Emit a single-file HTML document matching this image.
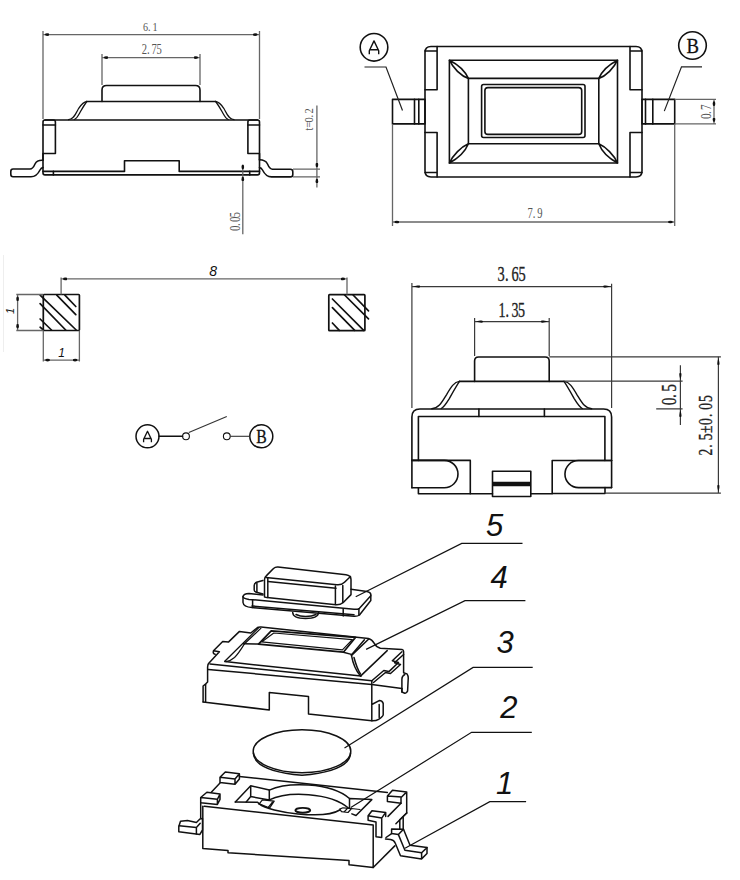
<!DOCTYPE html>
<html><head><meta charset="utf-8">
<style>
html,body{margin:0;padding:0;background:#fff;}
svg{display:block;}
.o{stroke:#111;stroke-width:1.6;fill:none;stroke-linejoin:round;stroke-linecap:round;}
.d{stroke:#666;stroke-width:1.3;fill:none;}
.t{font-family:"Liberation Serif",serif;fill:#333;}
.s{font-family:"Liberation Sans",sans-serif;font-style:italic;fill:#111;}
</style></head><body>
<svg width="740" height="880" viewBox="0 0 740 880">
<defs>
<marker id="ar" markerUnits="userSpaceOnUse" markerWidth="8" markerHeight="4" refX="6.3" refY="2" orient="auto-start-reverse"><ellipse cx="2" cy="2" rx="2.4" ry="1.3" fill="#111"/></marker>
<marker id="ar2" markerUnits="userSpaceOnUse" markerWidth="10" markerHeight="4" refX="8.5" refY="1.4" orient="auto-start-reverse"><path d="M0,1.4 C0,0 2.5,0 7,1.4 C2.5,2.8 0,2.8 0,1.4z" fill="#111"/></marker>
</defs>
<g id="v1">
<g class="o">
 <path d="M102,101.5 V90 Q102,85.5 106.5,85.5 H195.5 Q200,85.5 200,90 V101.5"/>
 <path d="M86.8,101.5 H215.7"/>
 <g style="stroke-width:1.3">
 <path d="M86.8,101.5 C83,102 81,105 78.6,108.5 C76,113 74,119.5 68.5,119.7"/>
 <path d="M86.8,101.5 C85,104 82.5,108 80.5,111.5 C78.5,115 77,118.5 74.3,119.5"/>
 <path d="M215.7,101.5 C219.5,102 221.5,105 223.9,108.5 C226.5,113 228.5,119.5 234,119.7"/>
 <path d="M215.7,101.5 C217.5,104 220,108 222,111.5 C224,115 225.5,118.5 228.2,119.5"/>
 </g>
 <path d="M45,120 H257.5"/>
 <path d="M43,160 V122 Q43,120 45,120 H53.4 Q55.4,120 55.4,122 V153.5 H43"/>
 <path d="M43,125 H55.4"/>
 <path d="M259.5,160 V122 Q259.5,120 257.5,120 H250 Q247.9,120 247.9,122 V153.5 H259.5"/>
 <path d="M247.9,125 H259.5"/>
 <path d="M43,153.5 V173 Q43,174.9 45,174.9 H257.5 Q259.5,174.9 259.5,173 V153.5"/>
 <path d="M43,171.4 H124.5 V160.7 H179.2 V171.4 H259.5"/>
 <path d="M53.4,171.4 V174.9 M249.7,171.4 V174.9"/>
 <path d="M43,160.3 C39,160 36.5,161 35,164 C33.5,167.5 32.5,169 30,169 H13 Q10.8,169 10.8,171.5 V174.3 Q10.8,176.8 13,176.8 H31 C36.5,176.8 38.5,173 40,170 C41,168 42,167.6 43,167.6"/>
 <path d="M259.5,159.8 C263.5,159.8 266,161 267.5,164 C269,167.5 270,169.2 272.5,169.2 H290.5 Q292.8,169.2 292.8,171.7 V174.4 Q292.8,176.9 290.5,176.9 H271.5 C266,176.9 264,173 262.5,170 C261.5,168 260.5,167.6 259.5,167.6"/>
</g>
<g class="d">
 <path d="M43,31 V119 M259.5,31 V119"/>
 <path d="M43,34.6 H259.5" marker-start="url(#ar)" marker-end="url(#ar)"/>
 <path d="M102,54 V85 M200,54 V85"/>
 <path d="M102,57.6 H200" marker-start="url(#ar)" marker-end="url(#ar)"/>
 <path d="M293,169.2 H320 M293,176.9 H320"/>
 <path d="M316.9,105.6 V169.2" marker-end="url(#ar)"/>
 <path d="M316.9,187.4 V176.9" marker-end="url(#ar)"/>
 <path d="M242.8,164.4 V171.4" marker-end="url(#ar)"/>
 <path d="M242.8,171.4 V174.9 M316.9,169.2 V176.9"/>
 <path d="M242.8,234.3 V174.9" marker-end="url(#ar)"/>
</g>
<g class="t" font-size="13.33" style="fill:#555;stroke:#555;stroke-width:0" transform="translate(143.30,31.20)"><text transform="translate(2.33,0) scale(0.76,1)" text-anchor="middle">6</text><text transform="translate(6.07,0) scale(0.76,1)" text-anchor="middle">.</text><text transform="translate(11.67,0) scale(0.76,1)" text-anchor="middle">1</text></g><g class="t" font-size="13.94" style="fill:#555;stroke:#555;stroke-width:0" transform="translate(142.00,54.20)"><text transform="translate(2.45,0) scale(0.76,1)" text-anchor="middle">2</text><text transform="translate(6.37,0) scale(0.76,1)" text-anchor="middle">.</text><text transform="translate(12.25,0) scale(0.76,1)" text-anchor="middle">7</text><text transform="translate(17.15,0) scale(0.76,1)" text-anchor="middle">5</text></g><g class="t" font-size="13.03" style="fill:#555;stroke:#555;stroke-width:0" transform="translate(313.10,131.30) rotate(-90)"><text transform="translate(2.28,0) scale(0.8,1)" text-anchor="middle">t</text><text transform="translate(6.84,0) scale(0.8,1)" text-anchor="middle">=</text><text transform="translate(11.40,0) scale(0.8,1)" text-anchor="middle">0</text><text transform="translate(15.05,0) scale(0.8,1)" text-anchor="middle">.</text><text transform="translate(20.52,0) scale(0.8,1)" text-anchor="middle">2</text></g><g class="t" font-size="14.39" style="fill:#555;stroke:#555;stroke-width:0" transform="translate(240.10,230.60) rotate(-90)"><text transform="translate(2.25,0) scale(0.76,1)" text-anchor="middle">0</text><text transform="translate(5.85,0) scale(0.76,1)" text-anchor="middle">.</text><text transform="translate(11.25,0) scale(0.76,1)" text-anchor="middle">0</text><text transform="translate(15.75,0) scale(0.76,1)" text-anchor="middle">5</text></g></g><g id="v2">
<g class="o">
 <circle cx="374" cy="47.3" r="13.8"/>
 <circle cx="692.5" cy="45.5" r="13.8"/>
 <path d="M431,46.5 H636 Q642,46.5 642,52.5 V171 Q642,177 636,177 H431 Q425,177 425,171 V52.5 Q425,46.5 431,46.5z"/>
 <path d="M437.1,46.5 V89.7 H425 M425,51 H437.1"/>
 <path d="M437.1,177 V132.5 H425 M425,172.5 H437.1"/>
 <path d="M630,46.5 V89.7 H642 M642,51 H630"/>
 <path d="M630,177 V132.5 H642 M642,172.5 H630"/>
 <rect x="449.4" y="60.2" width="168.1" height="102.8"/>
 <rect x="468.4" y="78.4" width="130.4" height="65.4"/>
 <rect x="481.6" y="84.5" width="103.4" height="53" rx="2"/>
 <rect x="484.9" y="87.6" width="96.8" height="46.8" rx="3"/>
 <path d="M449.4,60.2 C457,64 465,71 468.4,78.4 C461,76 453,68 449.4,60.2z"/>
 <path d="M617.5,60.2 C610,64 602,71 598.8,78.4 C606,76 614,68 617.5,60.2z"/>
 <path d="M449.4,163 C457,159 465,152 468.4,143.8 C461,147 453,155 449.4,163z"/>
 <path d="M617.5,163 C610,159 602,152 598.8,143.8 C606,147 614,155 617.5,163z"/>
 <rect x="392.5" y="99.4" width="32.5" height="24.5"/>
 <path d="M414.5,99.4 V123.9 M418.8,99.4 V123.9"/>
 <rect x="642" y="99.4" width="32.7" height="24.5"/>
 <path d="M645.5,99.4 V123.9 M652.8,99.4 V123.9"/>
</g>
<g class="d" style="stroke:#222;stroke-width:1.2">
 <path d="M364.5,67 H386 L402.5,110.5"/>
 <path d="M702,66.9 H681.5 L664.3,111.1"/>
</g>
<g class="d">
 <path d="M392.5,124 V226 M674.7,124 V226"/>
 <path d="M392.5,222 H674.7" marker-start="url(#ar)" marker-end="url(#ar)"/>
 <path d="M674.7,99.4 H716 M674.7,123.9 H716"/>
 <path d="M714,99.4 V123.9" marker-start="url(#ar)" marker-end="url(#ar)"/>
</g>
<path d="M369.3,54.2 V50.8 L374,40.9 L378.7,50.8 V54.2 M369.8,49.7 H378.2" style="stroke:#111;stroke-width:1.4;fill:none;stroke-linejoin:round"/>
<text class="t" style="fill:#111;stroke:#111;stroke-width:0.3" font-size="22" transform="translate(692.8,53.4) scale(0.85,1)" text-anchor="middle">B</text>
<g class="t" font-size="13.94" style="fill:#555;stroke:#555;stroke-width:0" transform="translate(527.80,218.20)"><text transform="translate(2.40,0) scale(0.76,1)" text-anchor="middle">7</text><text transform="translate(6.24,0) scale(0.76,1)" text-anchor="middle">.</text><text transform="translate(12.00,0) scale(0.76,1)" text-anchor="middle">9</text></g><g class="t" font-size="14.70" style="fill:#555;stroke:#555;stroke-width:0" transform="translate(710.50,118.60) rotate(-90)"><text transform="translate(2.30,0) scale(0.76,1)" text-anchor="middle">0</text><text transform="translate(5.98,0) scale(0.76,1)" text-anchor="middle">.</text><text transform="translate(11.50,0) scale(0.76,1)" text-anchor="middle">7</text></g></g><!-- ============ VIEW 3: footprint ============ -->
<g id="v3">
<path d="M3.5,255 V352" stroke="#eee" stroke-width="1" fill="none"/>
<g class="o" style="stroke-width:1.7">
 <rect x="43.3" y="294.5" width="36.1" height="36" rx="0.8"/>
 <rect x="328.8" y="294.6" width="36.1" height="36.1" rx="0.8"/>
 <path d="M40.1,295.1 L76.2,330 M40.1,303.6 L65.7,330 M40.1,319 L51.5,330 M40.1,327.2 L43.4,330 M56.8,295.1 L75.8,314.6 M64.9,295.1 L75.8,306.5"/>
 <path d="M332.4,299 L363.7,330.3 M332.4,307.6 L354.7,330.3 M332.4,323 L339.3,330.3 M344.6,295 L368.5,318.9 M353.1,295 L368.5,310.8"/>
</g>
<g class="d">
 <path d="M61.1,277.5 V294.5 M347,277.5 V294.6"/>
 <path d="M61.1,278.9 H347" marker-start="url(#ar)" marker-end="url(#ar)"/>
 <path d="M16.3,294.5 H43.3 M16.3,330.5 H43.3"/>
 <path d="M17.6,294.5 V330.5" marker-start="url(#ar)" marker-end="url(#ar)"/>
 <path d="M43.3,330.5 V361.5 M79.4,330.5 V361.5"/>
 <path d="M43.3,360.1 H79.4" marker-start="url(#ar)" marker-end="url(#ar)"/>
</g>
<text class="s" font-size="14" x="209.3" y="276">8</text>
<text class="s" font-size="12" x="61.5" y="357" text-anchor="middle">1</text>
<text class="s" font-size="11" transform="translate(13.8,311) rotate(-90)" text-anchor="middle">1</text>
</g>

<!-- ============ VIEW 4: circuit ============ -->
<g id="v4">
<g class="o" style="stroke-width:1.5">
 <circle cx="147.5" cy="436.3" r="11.5"/>
 <circle cx="261.3" cy="436.3" r="11.5"/>
 <path d="M159,436.3 H182.6"/>
 <circle cx="186" cy="436.3" r="3.4" style="stroke-width:1.1"/>
 <circle cx="226.8" cy="436.3" r="3.4" style="stroke-width:1.1"/>
</g>
<g class="d" style="stroke:#333;stroke-width:1.1">
 <path d="M188.8,432.5 L226.8,416.5"/>
 <path d="M230.2,436.3 H249.8"/>
</g>
<path d="M143.6,442.2 V439.4 L147.5,431.3 L151.4,439.4 V442.2 M144,438.5 H151" style="stroke:#111;stroke-width:1.3;fill:none;stroke-linejoin:round"/>
<text class="t" style="fill:#111;stroke:#111;stroke-width:0.3" font-size="18.5" transform="translate(261.6,442.6) scale(0.85,1)" text-anchor="middle">B</text>
</g>

<!-- ============ VIEW 5: front view ============ -->
<g id="v5">
<g class="o">
 <path d="M474.6,381.4 V361 Q474.6,357 478.6,357 H545.2 Q549.2,357 549.2,361 V381.4"/>
 <path d="M459.5,381.4 H564"/>
 <g style="stroke-width:1.4">
 <path d="M459.5,381.4 C454,382 451,387 446.6,394.6 C442,402 439,408.3 431.8,408.7"/>
 <path d="M459.5,381.4 C457,385 453,392 449.3,398.6 C446,404 444,407 441.2,408.5"/>
 <path d="M564,381.4 C569.5,382 572.5,387 576.9,394.6 C581.5,402 584.5,408.3 591.7,408.7"/>
 <path d="M564,381.4 C566.5,385 570.5,392 574.2,398.6 C577.5,404 579.5,407 582.3,408.5"/>
 </g>
 <path d="M411.9,487.8 V417 Q411.9,409 419.9,409 H603.6 Q611.6,409 611.6,417 V487.6"/>
 <path d="M418.4,460.4 V416.5 H604.9 V460.5"/>
 <path d="M478.9,409 V416.5 M544.4,409 V416.5"/>
 <path d="M411.9,460.4 H470.3 V493.7 H418.4 V487.8"/>
 <path d="M411.9,460.4 H444.3 A13.7,13.7 0 0 1 444.3,487.8 H411.9"/>
 <path d="M611.6,460.5 H552.2 V493.5 H605 V487.6"/>
 <path d="M611.6,460.5 H578.5 A13.5,13.5 0 0 0 578.5,487.6 H611.6"/>
 <path d="M470.3,493.7 H492.5 M530.8,493.7 H552.2"/>
 <rect x="492.5" y="471.2" width="38.3" height="25.3"/>
 <path d="M492.5,484 H530.8" style="stroke-width:4.6;stroke-linecap:butt"/>
</g>
<g class="d" style="stroke:#3a3a3a;stroke-width:1.2">
 <path d="M411.9,283 V408 M611.6,283.8 V408"/>
 <path d="M411.9,286.6 H611.6" marker-start="url(#ar2)" marker-end="url(#ar2)"/>
 <path d="M474.6,318 V356 M549.2,318 V356"/>
 <path d="M474.6,321.6 H549.2" marker-start="url(#ar2)" marker-end="url(#ar2)"/>
 <path d="M549.2,356.8 H720.9 M605,493.1 H720.9"/>
 <path d="M718.4,356.8 V493.1" marker-start="url(#ar2)" marker-end="url(#ar2)"/>
 <path d="M564.3,381.2 H682.6 M656.2,408.8 H682.6 M680.4,381.2 V408.8"/>
 <path d="M680.4,365.3 V381.2" marker-end="url(#ar2)"/>
 <path d="M680.4,425 V408.8" marker-end="url(#ar2)"/>
</g>
<g class="t" font-size="21.21" style="fill:#222;stroke:#222;stroke-width:0.35" transform="translate(497.60,281.20)"><text transform="translate(3.50,0) scale(0.68,1)" text-anchor="middle">3</text><text transform="translate(9.10,0) scale(0.68,1)" text-anchor="middle">.</text><text transform="translate(17.50,0) scale(0.68,1)" text-anchor="middle">6</text><text transform="translate(24.50,0) scale(0.68,1)" text-anchor="middle">5</text></g><g class="t" font-size="20.61" style="fill:#222;stroke:#222;stroke-width:0.35" transform="translate(498.90,316.70)"><text transform="translate(3.21,0) scale(0.68,1)" text-anchor="middle">1</text><text transform="translate(8.35,0) scale(0.68,1)" text-anchor="middle">.</text><text transform="translate(16.06,0) scale(0.68,1)" text-anchor="middle">3</text><text transform="translate(22.49,0) scale(0.68,1)" text-anchor="middle">5</text></g><g class="t" font-size="21.97" style="fill:#222;stroke:#222;stroke-width:0.35" transform="translate(675.90,404.80) rotate(-90)"><text transform="translate(3.37,0) scale(0.7,1)" text-anchor="middle">0</text><text transform="translate(8.75,0) scale(0.7,1)" text-anchor="middle">.</text><text transform="translate(16.83,0) scale(0.7,1)" text-anchor="middle">5</text></g><g class="t" font-size="19.39" style="fill:#222;stroke:#222;stroke-width:0.35" transform="translate(711.70,455.90) rotate(-90)"><text transform="translate(3.82,0) scale(0.7,1)" text-anchor="middle">2</text><text transform="translate(9.93,0) scale(0.7,1)" text-anchor="middle">.</text><text transform="translate(19.09,0) scale(0.7,1)" text-anchor="middle">5</text><text transform="translate(26.73,0) scale(0.7,1)" text-anchor="middle">±</text><text transform="translate(34.37,0) scale(0.7,1)" text-anchor="middle">0</text><text transform="translate(40.48,0) scale(0.7,1)" text-anchor="middle">.</text><text transform="translate(49.64,0) scale(0.7,1)" text-anchor="middle">0</text><text transform="translate(57.28,0) scale(0.7,1)" text-anchor="middle">5</text></g></g><!-- ============ EXPLODED VIEW ============ -->
<g id="ex">
<!-- labels & leaders -->
<g class="d" style="stroke:#111;stroke-width:1.2">
 <path d="M355.7,596.8 L461.7,543.4 H522.5"/>
 <path d="M366.1,649.4 L465,600.6 H525.4"/>
 <path d="M344.5,748.1 L473.1,667.4 H532.7"/>
 <path d="M350.8,807.6 L471.6,732.3 H531.8"/>
 <path d="M405,848.2 L489.8,801.6 H526.1"/>
</g>
<g class="s" font-size="31">
 <text x="486" y="535.5">5</text>
 <text x="490.5" y="587.7">4</text>
 <text x="496.5" y="652.8">3</text>
 <text x="500.3" y="717.5">2</text>
 <text x="496" y="793.6">1</text>
</g>

<!-- PART 5: button cap -->
<g class="o" style="stroke-width:1.5">
 <!-- stem -->
 <path d="M292.7,612.5 Q293,618.5 305.6,618.5 Q318.2,618.5 318.6,612.5"/>
 <path d="M296,614.5 Q300,616.5 305.6,616.5 Q312,616.5 316,614.5"/>
 <!-- plate -->
 <path d="M351,589.2 L367,591.4 Q371.5,592.5 370.8,595.7 L359.5,608.3 Q357.5,609.6 354,609.3 L249,599.4 Q243,598.5 243,596.5 Q243.5,593.5 249,593.4 L263,594.9"/>
 <path d="M243,596.5 V602.5 Q243.5,606.8 252,607.6 L354,616.3 Q357.5,616.5 359.5,615 L370.8,600.5 V595.7"/>
 <path d="M252.6,599.8 V607.6 M343.2,609 V616 M358.9,609 V615.3"/>
 <path d="M252,606 L354,614.8"/>
 <!-- back-left small tab -->
 <path d="M262.9,580.5 L256.5,582.3 Q254.2,583.3 254.2,585.5 V590 Q254.2,591.8 256.5,592.2 L262.9,594"/>
 <path d="M256.9,583 V591.8"/>
 <!-- button body -->
 <path d="M264.5,597 V579.5 Q264.5,577.3 266.5,575.6 L273.5,568.5 Q275.3,566.8 278,567 L346,574.8 Q351,575.5 351,579.5 V594.6 L343.5,602.2 Q340.5,605 336,604.7 L267,597.6 Q264.5,597.3 264.5,597"/>
 <path d="M266,577.4 L336.8,584.8 Q341.5,585.3 344.5,582.3 L350.5,576.5"/>
 <path d="M268,581.6 L336,588.3"/>
 <path d="M267.8,578 V597.5 M335.4,586 V604.5 M342.8,585.5 V602.7"/>
</g>

<!-- PART 4: housing -->
<g class="o" style="stroke-width:1.5">
 <!-- silhouette top -->
 <path d="M203.1,701.9 V686 L205.8,683.8 L207.6,682 V667 Q207.6,664 209.5,662.4 L219.4,651.8 L213.5,650.8 Q212.6,653.8 215.1,654.2 M213.5,650.8 L222.7,641.4 L228.4,642.1 L239.5,631.4 L250.8,633 L257.5,627.5 Q258.9,626.8 261,627 L368.4,638.6 Q372,639.5 374.1,643.2 Q376,647 380.3,648.3 L401.9,649.4 Q403.6,650 403.6,651.5 V672.7 L407,673.9 Q408.5,676 408.2,679 L407.6,690.9 Q406.5,693.5 404.8,693.2 L401.9,692 V688.6"/>
 <path d="M205.6,684.5 V702.2"/>
 <!-- top face front edge & front face top -->
 <path d="M210,664 L371.8,680.7"/>
 <path d="M208.3,669.4 L371.8,684.6 L401.9,688.6"/>
 <!-- front face bottom with notch -->
 <path d="M203.1,701.9 L269.3,710 V692.4 L308.5,696.5 V714 L371.8,720.8"/>
 <!-- front right vertical + bottom tab -->
 <path d="M371.8,680.7 V720.8 Q376,721 378.6,719.3 Q383.2,716.5 383.2,714.8 V703.4 Q382,700.5 379.2,700.6 L371.8,704.5"/>
 <path d="M379.2,704.5 V717.6"/>
 <!-- right top edge notches (double) -->
 <path d="M371.8,680.7 L383.8,670.5 L388.9,671.6 L398.5,662.5 L392.3,660.8 L401.9,651.7"/>
 <path d="M373.5,682.5 L385.5,672.5 L390.5,673.5 L400.5,664.5 L394.5,662.8 L403.6,654.5"/>
 <path d="M404.8,674.5 Q402,676 401.9,679 V692"/>
 <!-- raised frame: left strip -->
 <path d="M258.6,627.8 L224.8,661.2 M260.8,628.4 L244.5,643.7" style="stroke-width:1.3"/>
  <path d="M244.5,643.7 C242.5,647 239,653 234.5,657.5 C232,659.8 229.5,661 226,661.6" style="stroke-width:1.2"/>
 <path d="M243.4,643.7 L258.5,644.1 M343.4,652.2 L352.3,654.6"/>
 <!-- window -->
 <path d="M271.2,630.9 L355.5,637.4 L343.4,652.2 L258.5,644.1 Z" style="stroke-width:1.7"/>
 <path d="M273.8,633 L352.3,639.7 L342.4,649.8 L261.6,641.9 Z" style="stroke-width:1.2"/>
 <path d="M368.5,639.2 L352.3,654.6"/>
 <!-- frame bottom edge -->
 <path d="M224.9,661.6 L361,676.1"/>
 <!-- bump -->
 <path d="M351.4,655.1 C353,664 357,672 360.5,676.1 L387.2,650.6"/>
 <path d="M354,657.5 C356,665 358.5,671 360.5,674"/>
 <path d="M364.4,639.8 L351.4,655.1"/>
</g>

<!-- PART 3: dome -->
<g class="o" style="stroke-width:1.5">
 <ellipse cx="302" cy="751.2" rx="48.8" ry="21.5"/>
 <path d="M253.4,753 Q254,771 302,775.3 Q350,771 350.6,753"/>
</g>

<!-- PART 2/1: base -->
<g class="o" style="stroke-width:1.5">
 <!-- back top edge -->
 <path d="M239.4,776.4 L387.4,792.5"/>
 <!-- front face -->
 <path d="M204.3,806.3 L373.2,824.9 V867.5 L349,864.7 V860.5 L228,852.8 V850.5 L202.8,848.4 V806.3"/>
 <path d="M373.2,867.5 L394.8,845.9"/>
 <!-- tab1 back-left -->
 <path d="M220,777.3 L225.3,772 L239.4,773.8 L235,779 Z M220,777.3 V782.6 L235,784.3 V779 M239.4,773.8 V779 L235,784.3"/>
 <path d="M220,783 L211.3,792.2"/>
 <!-- tab2 front-left -->
 <path d="M200.7,797.5 L206.9,792.2 L220,794 L217.4,799.3 Z M200.7,797.5 V802.8 L217.4,804.5 V799.3 M220,794 V799.3 L217.4,804.5"/>
 <path d="M200.7,802.8 V818"/>
 <!-- left lead -->
 <path d="M178.8,826.5 L180.5,821.2 L187.5,820.6 L196.4,822.5 L199.9,818.9 L202.5,818.6 V830 L199.9,834.4 L178.8,831.8 Z"/>
 <path d="M179.2,825.8 L196.4,827.6 L200.2,823.2 M196.4,827.6 V834"/>
 <!-- cavity left pocket -->
 <path d="M235.3,801.9 L250.7,785.7 L269.3,790.1 V799.9 L250.7,796.6 V785.7 M250.7,796.6 L246.2,801.9"/>
 <path d="M235.3,801.9 L257.6,802.3 L259.2,803.9"/>
 <path d="M259.2,803.9 L262.4,799.9 L274.2,801.1 L269.7,808 Z M268.1,807.6 L273.2,801.2" style="stroke-width:1.2"/>
 <!-- round cavity -->
 <path d="M269.3,790.1 C287,782 330,782 349.5,798.5"/>
 <path d="M269.3,799.9 C287,791 330,792 348.7,808.2"/>
 <path d="M259.2,803.9 C270,813 325,819.5 339.7,810"/>
 <ellipse cx="302.8" cy="810.3" rx="7.4" ry="2.4" style="stroke-width:1.9"/>
 <!-- right pocket -->
 <path d="M349.5,798.5 L371.8,799.6 L356,815.5 L351.9,813.9 M349.5,798.5 V808.2"/>
 <path d="M339.7,809.1 L343,807.8 L351.5,808.5 L348,812.5 L341.5,811.7 Z M344.5,811.5 L347.5,808.3 M351.5,808.5 L360,809.5" style="stroke-width:1.2"/>
 <!-- tab back-right -->
 <path d="M387.4,795.9 L392.5,790.2 L406.7,791.9 L401.6,797 Z M387.4,795.9 V801.6 L401,803.3 V797 M406.7,791.9 V813"/>
 <path d="M401,803.3 L388,816.4 M406.7,813 L395.9,823.8"/>
 <!-- tab front-right -->
 <path d="M368.1,815.8 L372,810.7 L385.7,812.4 L381.7,818.1 Z M368.1,815.8 V820.3 L376,822 V836.8 L381.7,837.4 V818.1 M385.7,812.4 V816.5"/>
 <!-- right lead -->
 <path d="M391.6,828.9 L403.5,829.2 L398.4,834.6 L391.6,833.6 Z"/>
 <path d="M403.5,829.2 L410,845.2 L427,847.6 L421.6,852.7 L404.9,850.3 L398.4,834.6"/>
 <path d="M427,847.6 V853.5 L421.6,858.9 V852.7 M421.6,858.9 L400.5,855.8 L395.3,843.2 Q394,840 390.5,839.5 L385.5,839.1"/>
 <path d="M399.8,819.7 V828.9 M403.2,817.3 V829.2 M406.7,813 L399.8,819.7"/>
 <path d="M391.6,833.6 L386,837.5"/>
</g>
</g>
</svg>
</body></html>
